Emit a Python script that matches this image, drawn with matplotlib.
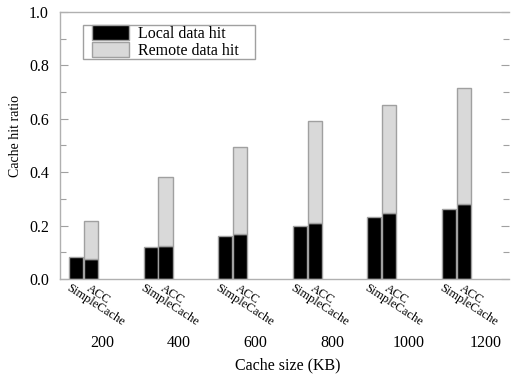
import matplotlib
matplotlib.use("Agg")
import matplotlib.pyplot as plt
from matplotlib.patches import Rectangle
import numpy as np

cache_sizes = ["200", "400", "600", "800", "1000", "1200"]
simple_local = [0.081, 0.121, 0.161, 0.198, 0.234, 0.263]
acc_local = [0.076, 0.125, 0.170, 0.209, 0.248, 0.281]
acc_total = [0.219, 0.381, 0.494, 0.590, 0.653, 0.716]
acc_remote = [t - l for t, l in zip(acc_total, acc_local)]
scheme_labels = ["SimpleCache", "ACC"]

plt.rcParams['font.family'] = ['Liberation Serif', 'DejaVu Serif']

W, H = 511, 375
fig = plt.figure(figsize=(W/100, H/100), dpi=100)
ax = fig.add_axes([60/W, (H-279)/H, (509-60)/W, (279-12)/H])

edge = '#a0a0a0'
local_c = '#000000'
remote_c = '#d9d9d9'
n = len(cache_sizes)
gx = np.arange(n) * 5.0

ax.bar(gx, simple_local, width=0.95, align='edge', color=local_c, edgecolor=edge, linewidth=1.0)
ax.bar(gx + 1, acc_local, width=0.95, align='edge', color=local_c, edgecolor=edge, linewidth=1.0,
       label='Local data hit')
ax.bar(gx + 1, acc_remote, bottom=acc_local, width=0.95, align='edge', color=remote_c,
       edgecolor=edge, linewidth=1.0, label='Remote data hit')

ax.set_xlim(-0.6, 29.5)
ax.set_ylim(0, 1.0)
ax.set_yticks([0, 0.2, 0.4, 0.6, 0.8, 1.0])
ax.set_yticklabels(["0.0", "0.2", "0.4", "0.6", "0.8", "1.0"], fontsize=11.5)
ax.set_yticks(np.arange(0.1, 1.0, 0.2), minor=True)
ax.tick_params(axis='y', which='both', direction='in', left=True, right=True, color=edge,
               length=4, width=0.8, pad=8)
ax.tick_params(axis='y', which='major', length=6)
ax.set_xticks([])

for s in ['top', 'left', 'bottom']:
    ax.spines[s].set_color('#b0b0b0')
    ax.spines[s].set_linewidth(1.0)
ax.spines['right'].set_visible(False)

# rotated scheme labels
for i in range(n):
    for j, lab in enumerate(scheme_labels):
        x = gx[i] + j * 1.35 + 0.1
        ax.text(x, -0.012, lab, rotation=-33, rotation_mode='anchor', ha='left', va='top',
                fontsize=9, transform=ax.get_xaxis_transform())

# group labels
for i, lab in enumerate(cache_sizes):
    ax.text(gx[i] + 2.2 + 0.15 * i, -0.24, lab, ha='center', va='center', fontsize=11.5,
            transform=ax.get_xaxis_transform())

fig.text(288/W, 1 - 365/H, "Cache size (KB)", ha='center', va='center', fontsize=11.5)
fig.text(16/W, 1 - 136/H, "Cache hit ratio", ha='center', va='center', rotation=90, fontsize=10)

# legend frame drawn separately; legend itself without frame
frame = Rectangle((83/W, 1 - 59/H), (255-83)/W, (59-25)/H, transform=fig.transFigure,
                  facecolor='white', edgecolor='#a0a0a0', linewidth=1.0, zorder=4)
ax.add_artist(frame)
leg = ax.legend(loc='upper left', bbox_to_anchor=((92-60)/449, (279-25)/267), borderaxespad=0,
                fontsize=11.5, handlelength=2.3, handleheight=1.05, labelspacing=0.0,
                handletextpad=0.6, borderpad=0.0, frameon=False)
leg.set_zorder(5)

fig.savefig("out.png", dpi=100)
